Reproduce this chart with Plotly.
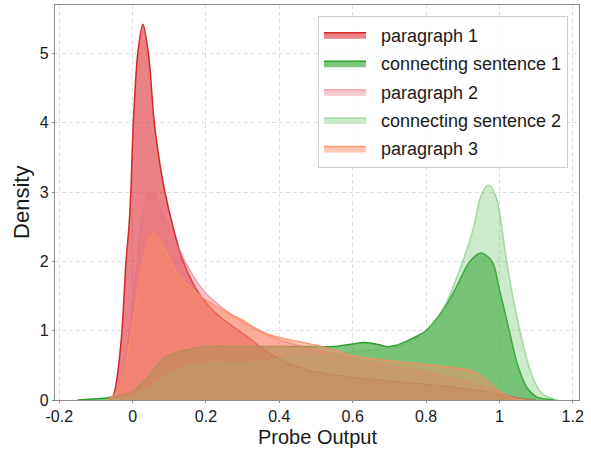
import plotly.graph_objects as go

# ---- data (x, density) ----
p1_x = [-0.065, -0.057, -0.05, -0.043, -0.036, -0.029, -0.018, -0.01, -0.005, 0.002, 0.014, 0.028, 0.043, 0.059, 0.073, 0.088, 0.11, 0.134, 0.165, 0.2, 0.245, 0.29, 0.34, 0.38, 0.43, 0.48, 0.55, 0.65, 0.75, 0.85, 0.95, 1.0, 1.05, 1.1]
p1_y = [0.0, 0.02, 0.1, 0.3, 0.6, 1.0, 2.0, 2.5, 3.0, 4.0, 5.0, 5.42, 5.0, 4.0, 3.45, 3.0, 2.5, 2.05, 1.68, 1.4, 1.17, 1.0, 0.8, 0.65, 0.52, 0.43, 0.36, 0.3, 0.25, 0.2, 0.13, 0.08, 0.03, 0.0]

cs1_x = [-0.15, -0.12, -0.09, -0.07, -0.05, -0.03, 0.0, 0.025, 0.05, 0.084, 0.115, 0.147, 0.2, 0.3, 0.4, 0.5, 0.547, 0.59, 0.634, 0.67, 0.693, 0.72, 0.756, 0.8, 0.847, 0.88, 0.92, 0.95, 0.98, 1.0, 1.027, 1.05, 1.075, 1.1, 1.13, 1.15]
cs1_y = [0.0, 0.01, 0.02, 0.03, 0.05, 0.07, 0.12, 0.24, 0.38, 0.6, 0.68, 0.72, 0.77, 0.77, 0.77, 0.77, 0.77, 0.8, 0.83, 0.8, 0.77, 0.79, 0.87, 1.0, 1.3, 1.6, 2.0, 2.12, 2.0, 1.6, 1.0, 0.5, 0.18, 0.05, 0.01, 0.0]

p2_x = [-0.07, -0.05, -0.035, -0.02, -0.009, 0.002, 0.013, 0.022, 0.035, 0.05, 0.065, 0.08, 0.106, 0.125, 0.143, 0.17, 0.2, 0.235, 0.265, 0.3, 0.35, 0.4, 0.45, 0.5, 0.6, 0.7, 0.8, 0.9, 0.95, 1.0, 1.05, 1.1]
p2_y = [0.0, 0.08, 0.25, 0.6, 1.0, 1.5, 2.0, 2.5, 2.85, 2.99, 2.9, 2.7, 2.4, 2.2, 2.0, 1.75, 1.54, 1.37, 1.25, 1.12, 0.98, 0.87, 0.79, 0.72, 0.6, 0.5, 0.4, 0.28, 0.2, 0.11, 0.03, 0.0]

cs2_x = [-0.1, -0.05, 0.0, 0.04, 0.084, 0.13, 0.175, 0.22, 0.31, 0.4, 0.48, 0.55, 0.64, 0.71, 0.756, 0.8, 0.85, 0.9, 0.93, 0.95, 0.97, 0.99, 1.02, 1.04, 1.056, 1.08, 1.1, 1.12, 1.15, 1.16]
cs2_y = [0.0, 0.01, 0.04, 0.15, 0.32, 0.44, 0.5, 0.54, 0.53, 0.6, 0.62, 0.66, 0.72, 0.75, 0.84, 1.0, 1.35, 2.0, 2.5, 2.95, 3.1, 2.95, 2.0, 1.4, 1.0, 0.5, 0.22, 0.08, 0.01, 0.0]

p3_x = [-0.07, -0.05, -0.035, -0.02, -0.003, 0.012, 0.029, 0.042, 0.056, 0.07, 0.093, 0.11, 0.129, 0.147, 0.17, 0.2, 0.235, 0.27, 0.3, 0.33, 0.365, 0.4, 0.456, 0.5, 0.55, 0.593, 0.65, 0.729, 0.82, 0.88, 0.92, 0.945, 0.965, 0.985, 1.0, 1.02, 1.04, 1.07]
p3_y = [0.0, 0.07, 0.22, 0.5, 1.0, 1.5, 2.0, 2.3, 2.4, 2.33, 2.12, 1.93, 1.78, 1.68, 1.57, 1.44, 1.33, 1.23, 1.15, 1.05, 0.96, 0.9, 0.84, 0.79, 0.72, 0.65, 0.6, 0.55, 0.5, 0.46, 0.43, 0.37, 0.29, 0.19, 0.12, 0.06, 0.02, 0.0]

series_names = ["paragraph 1", "connecting sentence 1", "paragraph 2", "connecting sentence 2", "paragraph 3"]
xs = [p1_x, cs1_x, p2_x, cs2_x, p3_x]
ys = [p1_y, cs1_y, p2_y, cs2_y, p3_y]
line_colors = ["rgb(214,39,40)", "rgb(44,160,44)", "rgba(235,110,125,0.55)", "rgba(100,190,100,0.5)", "rgba(252,141,98,0.85)"]
fill_colors = ["rgba(220,40,50,0.58)", "rgba(44,160,44,0.6)", "rgba(235,110,125,0.38)", "rgba(100,190,100,0.32)", "rgba(252,141,98,0.5)"]

x_tickvals = [-0.2, 0, 0.2, 0.4, 0.6, 0.8, 1.0, 1.2]
x_ticktext = ["-0.2", "0", "0.2", "0.4", "0.6", "0.8", "1", "1.2"]
y_tickvals = [0, 1, 2, 3, 4, 5]

FONT = "Liberation Sans"
NB = "\u00a0\u00a0"

fig = go.Figure()
for i, (name, x, y) in enumerate(zip(series_names, xs, ys)):
    fig.add_trace(go.Scatter(
        x=x, y=y, name=NB + name, mode="lines",
        line=dict(color=line_colors[i], width=1.5, shape="spline", smoothing=0.9),
        fill="tozeroy", fillcolor=fill_colors[i],
        legendgroup=f"g{i}",
    ))

axis_common = dict(
    showline=True, linecolor="#8c8c8c", linewidth=1.3, mirror=True,
    showgrid=True, gridcolor="#dedede", griddash="4px,3px", gridwidth=0.8,
    zeroline=False, ticks="outside", ticklen=2, tickcolor="#8c8c8c",
    tickfont=dict(family=FONT, size=16, color="#1a1a1a"),
    automargin=False,
)

fig.update_layout(
    width=591, height=450,
    margin=dict(l=55, r=12, t=5, b=50),
    paper_bgcolor="white", plot_bgcolor="white",
    font=dict(family=FONT, color="#1a1a1a"),
    xaxis=dict(range=[-0.2117, 1.2172], tickvals=x_tickvals, ticktext=x_ticktext, **axis_common),
    yaxis=dict(range=[0, 5.697], tickvals=y_tickvals, **axis_common),
    legend=dict(x=0.979, y=0.973, xanchor="right", yanchor="top",
                bgcolor="rgba(255,255,255,0.85)", bordercolor="#cccccc", borderwidth=1,
                font=dict(family=FONT, size=18), tracegroupgap=2, itemwidth=42),
    showlegend=True,
    annotations=[
        dict(text="Probe Output", xref="paper", yref="paper", x=0.5, y=-0.094,
             xanchor="center", yanchor="middle", showarrow=False,
             font=dict(family=FONT, size=20, color="#1a1a1a")),
        dict(text="Density", xref="paper", yref="paper", x=-0.064, y=0.5,
             xanchor="center", yanchor="middle", showarrow=False, textangle=-90,
             font=dict(family=FONT, size=22, color="#1a1a1a")),
    ],
)

fig.write_html("out.html", config={"displayModeBar": False},
               post_script="document.body.style.margin='0';document.body.style.overflow='hidden';")
